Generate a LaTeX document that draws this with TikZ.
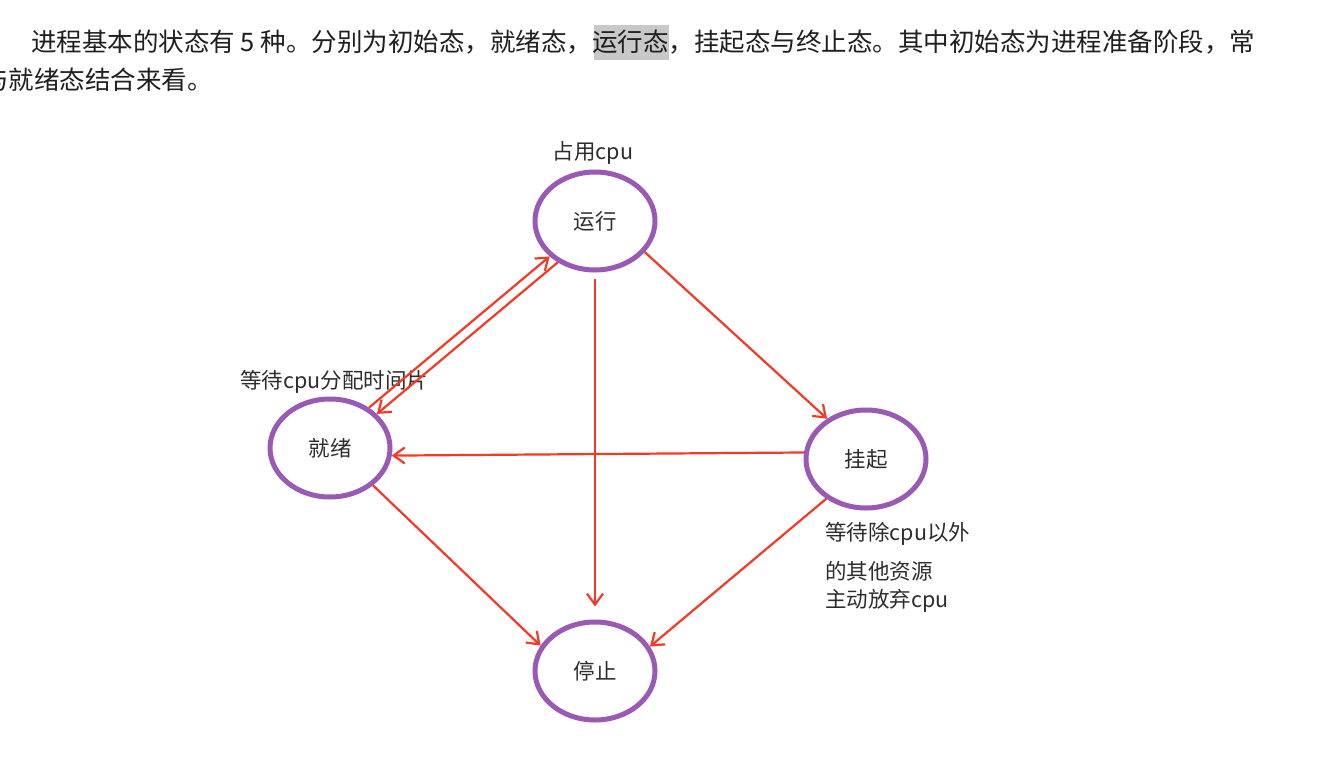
\documentclass[tikz,border=0pt]{standalone}
\usepackage{fontspec}
\setmainfont{Noto Sans CJK SC}
\usetikzlibrary{arrows.meta,shapes.geometric}
\definecolor{vio}{RGB}{155,89,182}
\definecolor{arrred}{RGB}{242,58,40}
\definecolor{txt}{RGB}{45,45,45}
\definecolor{hl}{RGB}{200,200,200}
\begin{document}
\begin{tikzpicture}[x=1pt,y=-1pt,
  stbox/.style={draw=vio, line width=5pt, ellipse, inner sep=0pt,
    minimum width=120pt, minimum height=98pt,
    font=\fontsize{21.5}{26}\selectfont, text=txt},
  lbl/.style={font=\fontsize{21.5}{26}\selectfont, text=txt, inner sep=0pt},
  para/.style={font=\fontsize{25.5}{30}\selectfont, text=black!88, inner sep=0pt, anchor=west},
  conn/.style={draw=arrred, line width=2.2pt, -{Straight Barb[length=11pt,width=16pt,line width=2.2pt]}}
]
\clip (0,0) rectangle (1332,757);
\fill[white] (0,0) rectangle (1332,757);
% paragraph
\fill[hl] (594,25) rectangle (669,60);
\node[para] (p1) at (31,42) {进程基本的状态有 5 种。分别为初始态，就绪态，运行态，挂起态与终止态。其中初始态为进程准备阶段，常};
\node[para] (p2) at (-17,80) {与就绪态结合来看。};
% states
\node[stbox] (yx) at (595,221) {运行};
\node[stbox] (jx) at (330,448) {就绪};
\node[stbox] (gq) at (866,459) {挂起};
\node[stbox] (tz) at (595,671) {停止};
% labels
\node[lbl] (l1) at (593,153) {占用cpu};
\node[lbl, anchor=west] (l2) at (240,382) {等待cpu分配时间片};
\node[lbl, anchor=west] (l3) at (825,534) {等待除cpu以外};
\node[lbl, anchor=west] (l4) at (825,571) {的其他资源};
\node[lbl, anchor=west] (l5) at (825,601) {主动放弃cpu};
% connectors
\draw[conn] (jx.46) -- (yx.218);
\draw[conn] (yx.228) -- (jx.36);
\draw[conn, shorten <=6pt, shorten >=13pt] (yx.270) -- (tz.90);
\draw[conn] (yx.328) -- (gq.134);
\draw[conn] (gq.174) -- (jx.353);
\draw[conn] (jx.319) -- (tz.155);
\draw[conn] (gq.225) -- (tz.24);
\end{tikzpicture}
\end{document}
